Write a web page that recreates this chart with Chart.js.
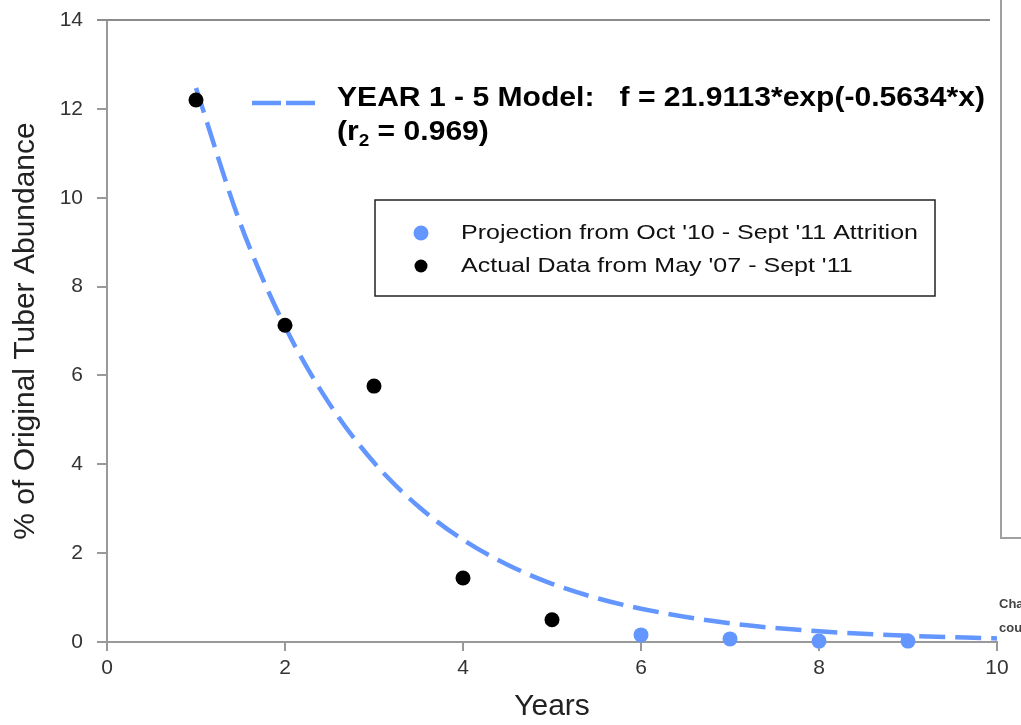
<!DOCTYPE html>
<html>
<head>
<meta charset="utf-8">
<script src="https://cdn.jsdelivr.net/npm/chart.js@4"></script>
<style>
  html, body { margin: 0; padding: 0; background: #fff; }
  #wrap { width: 1021px; height: 725px; position: relative; }
</style>
</head>
<body>
<div id="wrap"><canvas id="chartTuber" width="1021" height="725"></canvas></div>
<script>
// Dados
const actualYears = [1, 2, 3, 4, 5];
const actualValues = [12.2, 7.13, 5.76, 1.44, 0.5];

const projYears = [6, 7, 8, 9];
const projValues = [0.16, 0.07, 0.02, 0.02];

const modelYears = [1, 1.5, 2, 2.5, 3, 3.5, 4, 4.5, 5, 5.5, 6, 7, 8, 9, 10];
const modelValues = [12.47, 9.41, 7.1, 5.36, 4.04, 3.05, 2.3, 1.74, 1.31, 0.99, 0.75, 0.42, 0.24, 0.14, 0.08];

const xTicks = [0, 2, 4, 6, 8, 10];
const yTicks = [0, 2, 4, 6, 8, 10, 12, 14];

const modelLabel = "YEAR 1 - 5 Model:   f = 21.9113*exp(-0.5634*x)";
const projLabel = "Projection from Oct '10 - Sept '11 Attrition";
const actualLabel = "Actual Data from May '07 - Sept '11";

const blue = "rgb(100, 150, 255)";
const FONT = "'Liberation Sans', Arial, sans-serif";

const toXY = (xs, ys) => xs.map((x, i) => ({ x: x, y: ys[i] }));

// texto esticado na horizontal (o original é mais largo que a fonte)
function stretchedText(c, text, x, y, sx) {
  c.save();
  c.translate(x, y);
  c.scale(sx, 1);
  c.fillText(text, 0, 0);
  c.restore();
  return c.measureText(text).width * sx;
}

// Anotações, legenda e bordas
const decoPlugin = {
  id: "deco",
  afterDraw(chart) {
    const c = chart.ctx;
    const a = chart.chartArea;
    c.save();

    // borda superior
    c.strokeStyle = "#8c8c8c";
    c.lineWidth = 2;
    c.beginPath();
    c.moveTo(a.left - 10, a.top);
    c.lineTo(990, a.top);
    c.stroke();

    // moldura do outro gráfico à direita
    c.strokeStyle = "#a0a0a0";
    c.lineWidth = 2;
    c.beginPath();
    c.moveTo(1001, 0);
    c.lineTo(1001, 538);
    c.lineTo(1021, 538);
    c.stroke();
    c.fillStyle = "#444";
    c.font = "bold 13px " + FONT;
    c.textAlign = "left";
    c.textBaseline = "middle";
    c.fillText("Cha", 999, 604);
    c.fillText("cou", 999, 628);

    // amostra tracejada do modelo
    c.strokeStyle = blue;
    c.lineWidth = 4.5;
    c.setLineDash([29, 5]);
    c.beginPath();
    c.moveTo(252, 103);
    c.lineTo(316, 103);
    c.stroke();
    c.setLineDash([]);

    // texto do modelo
    c.fillStyle = "#000";
    c.font = "bold 27px " + FONT;
    c.textBaseline = "alphabetic";
    const sx = 648 / c.measureText(modelLabel).width;
    stretchedText(c, modelLabel, 337, 106, sx);
    let x = 337;
    x += stretchedText(c, "(r", x, 140, sx);
    c.font = "bold 17px " + FONT;
    x += stretchedText(c, "2", x, 146, sx);
    c.font = "bold 27px " + FONT;
    stretchedText(c, " = 0.969)", x, 140, sx);

    // caixa da legenda
    c.strokeStyle = "#222";
    c.lineWidth = 1.5;
    c.strokeRect(375, 200, 560, 96);
    c.fillStyle = blue;
    c.beginPath();
    c.arc(421, 233, 7.5, 0, Math.PI * 2);
    c.fill();
    c.fillStyle = "#000";
    c.beginPath();
    c.arc(421, 266, 6.5, 0, Math.PI * 2);
    c.fill();
    c.fillStyle = "#111";
    c.font = "21px " + FONT;
    c.textBaseline = "middle";
    const lx = 457 / c.measureText(projLabel).width;
    stretchedText(c, projLabel, 461, 233, lx);
    stretchedText(c, actualLabel, 461, 266, lx);

    c.restore();
  },
};

const ctx = document.getElementById("chartTuber").getContext("2d");
const chart = new Chart(ctx, {
  type: "scatter",
  data: {
    datasets: [
      {
        label: "Model",
        type: "line",
        data: toXY(modelYears, modelValues),
        borderColor: blue,
        borderWidth: 4.5,
        borderDash: [26, 10],
        pointRadius: 0,
        cubicInterpolationMode: "monotone",
        fill: false,
        clip: false,
        order: 3,
      },
      {
        label: projLabel,
        data: toXY(projYears, projValues),
        backgroundColor: blue,
        borderWidth: 0,
        pointRadius: 7.5,
        clip: false,
        order: 1,
      },
      {
        label: actualLabel,
        data: toXY(actualYears, actualValues),
        backgroundColor: "#000",
        borderWidth: 0,
        pointRadius: 7.5,
        clip: false,
        order: 2,
      },
    ],
  },
  options: {
    responsive: false,
    animation: false,
    layout: { padding: { top: 20, right: 24, left: 0, bottom: 0 } },
    plugins: {
      legend: { display: false },
      tooltip: { enabled: false },
    },
    scales: {
      x: {
        type: "linear",
        min: 0,
        max: 10,
        afterBuildTicks: (s) => { s.ticks = xTicks.map((v) => ({ value: v })); },
        afterFit: (s) => { s.height = 83; s.paddingLeft = 0; s.paddingRight = 0; },
        grid: { drawOnChartArea: false, drawTicks: true, tickLength: 9, color: "#999", lineWidth: 2 },
        border: { color: "#999", width: 2 },
        ticks: { color: "#333", font: { family: FONT, size: 21 }, padding: 5 },
        title: {
          display: true,
          text: "Years",
          color: "#222",
          font: { family: FONT, size: 30 },
          padding: { top: 0, bottom: 0 },
        },
      },
      y: {
        type: "linear",
        min: 0,
        max: 14,
        afterBuildTicks: (s) => { s.ticks = yTicks.map((v) => ({ value: v })); },
        afterFit: (s) => { s.width = 107; s.paddingTop = 0; s.paddingBottom = 0; },
        grid: { drawOnChartArea: false, drawTicks: true, tickLength: 10, color: "#999", lineWidth: 2 },
        border: { color: "#999", width: 2 },
        ticks: { color: "#333", font: { family: FONT, size: 21 }, padding: 14 },
        title: {
          display: true,
          text: "% of Original Tuber Abundance",
          color: "#222",
          font: { family: FONT, size: 30 },
          padding: { top: 8, bottom: 0 },
        },
      },
    },
  },
  plugins: [decoPlugin],
});
</script>
</body>
</html>
